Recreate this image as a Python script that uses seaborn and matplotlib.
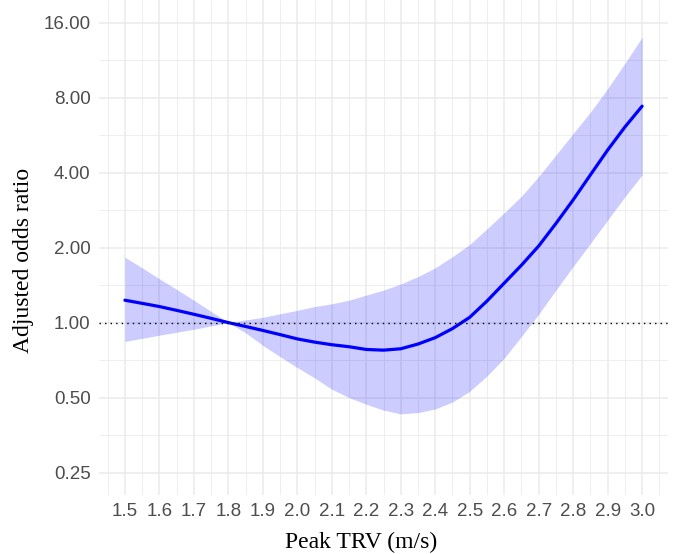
import numpy as np
import pandas as pd
import seaborn as sns
import matplotlib.pyplot as plt
from matplotlib.ticker import FixedLocator, NullFormatter

# values (every 0.05 m/s)
trv = [1.50, 1.55, 1.60, 1.65, 1.70, 1.75, 1.80, 1.85, 1.90, 1.95, 2.00,
       2.05, 2.10, 2.15, 2.20, 2.25, 2.30, 2.35, 2.40, 2.45, 2.50,
       2.55, 2.60, 2.65, 2.70, 2.75, 2.80, 2.85, 2.90, 2.95, 3.00]
odds = [1.23, 1.195, 1.16, 1.12, 1.08, 1.04, 1.00, 0.965, 0.93, 0.895, 0.86,
        0.835, 0.815, 0.80, 0.78, 0.775, 0.785, 0.82, 0.87, 0.946, 1.05,
        1.22, 1.44, 1.70, 2.03, 2.5, 3.11, 3.92, 4.93, 6.1, 7.4]
lower = [0.84, 0.865, 0.89, 0.915, 0.94, 0.97, 1.00, 0.91, 0.81, 0.73, 0.66,
         0.60, 0.54, 0.50, 0.47, 0.445, 0.43, 0.435, 0.45, 0.48, 0.53,
         0.61, 0.72, 0.88, 1.08, 1.35, 1.68, 2.08, 2.58, 3.2, 3.92]
upper = [1.83, 1.66, 1.50, 1.36, 1.23, 1.11, 1.00, 1.025, 1.05, 1.085, 1.12,
         1.16, 1.19, 1.23, 1.29, 1.35, 1.43, 1.53, 1.66, 1.84, 2.06,
         2.38, 2.76, 3.22, 3.86, 4.71, 5.75, 7.0, 8.7, 11.0, 14.0]
yticks = [0.25, 0.5, 1, 2, 4, 8, 16]
xticks = [1.5, 1.6, 1.7, 1.8, 1.9, 2.0, 2.1, 2.2, 2.3, 2.4, 2.5, 2.6, 2.7, 2.8, 2.9, 3.0]

df = pd.DataFrame({"trv": trv, "odds": odds, "lower": lower, "upper": upper})

sns.set_theme(style="white")
plt.rcParams['font.family'] = ['Liberation Sans', 'DejaVu Sans']

fig, ax = plt.subplots(figsize=(6.75, 5.54), dpi=100)
plt.subplots_adjust(left=0.1467, right=0.9896, bottom=0.1065, top=0.9995)

ax.fill_between(df["trv"], df["lower"], df["upper"], color="#0000ff", alpha=0.2,
                linewidth=0, zorder=2)
sns.lineplot(data=df, x="trv", y="odds", color="#0000ff", linewidth=2.3, ax=ax, zorder=3)
ax.axhline(1, color="black", linestyle=(0, (1, 3)), linewidth=1.0, zorder=4)

ax.set_yscale("log", base=2)
ax.set_ylim(2 ** -2.3, 2 ** 4.3)
ax.set_xlim(1.425, 3.075)
ax.yaxis.set_major_locator(FixedLocator(yticks))
ax.set_yticklabels(["%.2f" % v for v in yticks])
ax.yaxis.set_minor_locator(FixedLocator([2 ** (k + 0.5) for k in range(-3, 5)]))
ax.yaxis.set_minor_formatter(NullFormatter())
ax.xaxis.set_major_locator(FixedLocator(xticks))
ax.set_xticklabels(["%.1f" % v for v in xticks])
ax.xaxis.set_minor_locator(FixedLocator([1.45 + 0.1 * i for i in range(17)]))

ax.grid(which="major", color="#ebebeb", linewidth=1.1, zorder=0)
ax.grid(which="minor", color="#ebebeb", linewidth=0.6, zorder=0)
ax.set_axisbelow(True)
for s in ax.spines.values():
    s.set_visible(False)
ax.tick_params(which="both", length=0, labelsize=13.5, colors="#4d4d4d", pad=6)

ax.set_xlabel("")
ax.set_ylabel("")
fig.text(361 / 675, 1 - 542 / 554, "Peak TRV (m/s)", family="Liberation Serif",
         fontsize=17, color="black", ha="center", va="center")
fig.text(24 / 675, 1 - 260 / 554, "Adjusted odds ratio", family="Liberation Serif",
         fontsize=17, color="black", ha="center", va="center", rotation=90)

fig.savefig("out.png", dpi=100)
